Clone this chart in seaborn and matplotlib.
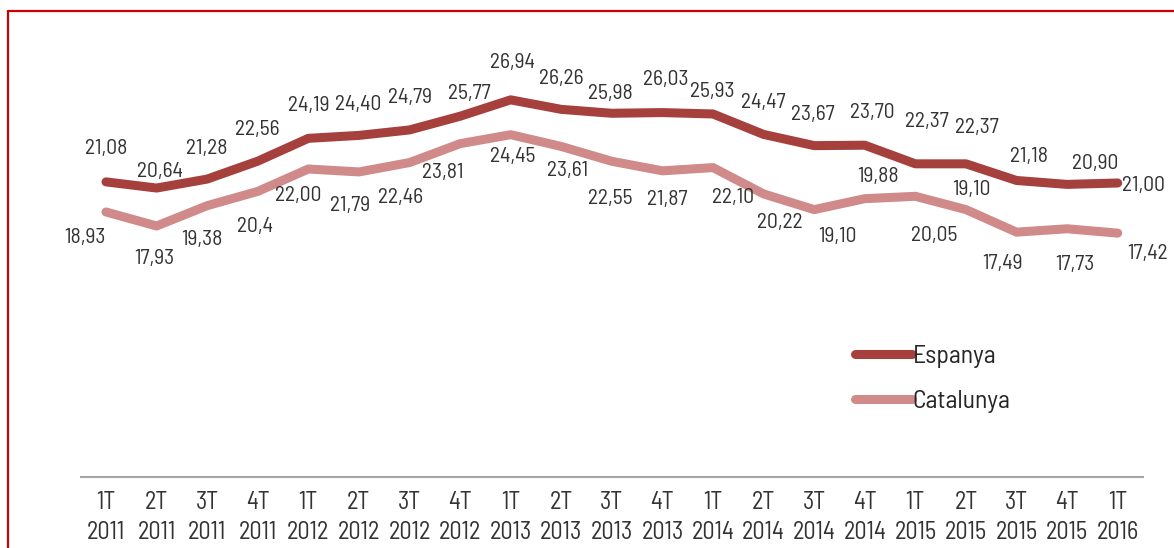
import numpy as np
import pandas as pd
import matplotlib
matplotlib.use("Agg")
import matplotlib.pyplot as plt
import seaborn as sns
from matplotlib.lines import Line2D

# Dades
trimestres = ['1T\n2011', '2T\n2011', '3T\n2011', '4T\n2011',
              '1T\n2012', '2T\n2012', '3T\n2012', '4T\n2012',
              '1T\n2013', '2T\n2013', '3T\n2013', '4T\n2013',
              '1T\n2014', '2T\n2014', '3T\n2014', '4T\n2014',
              '1T\n2015', '2T\n2015', '3T\n2015', '4T\n2015',
              '1T\n2016']
espanya = [21.08, 20.64, 21.28, 22.56, 24.19, 24.40, 24.79, 25.77, 26.94, 26.26,
           25.98, 26.03, 25.93, 24.47, 23.67, 23.70, 22.37, 22.37, 21.18, 20.90, 21.00]
catalunya = [18.93, 17.93, 19.38, 20.4, 22.00, 21.79, 22.46, 23.81, 24.45, 23.61,
             22.55, 21.87, 22.10, 20.22, 19.10, 19.88, 20.05, 19.10, 17.49, 17.73, 17.42]
etiquetes_esp = ['21,08', '20,64', '21,28', '22,56', '24,19', '24,40', '24,79', '25,77', '26,94', '26,26',
                 '25,98', '26,03', '25,93', '24,47', '23,67', '23,70', '22,37', '22,37', '21,18', '20,90', '21,00']
etiquetes_cat = ['18,93', '17,93', '19,38', '20,4', '22,00', '21,79', '22,46', '23,81', '24,45', '23,61',
                 '22,55', '21,87', '22,10', '20,22', '19,10', '19,88', '20,05', '19,10', '17,49', '17,73', '17,42']

# desplaçaments de les etiquetes (pixels)
off_esp = [(0, 33), (3, 17), (0, 31), (0, 32), (0, 33), (-1, 31), (0, 32), (9, 23), (2, 37), (0, 31),
           (-1, 20), (3, 33), (-1, 22), (0, 32), (-1, 31), (8, 33), (12, 42), (11, 36), (12, 24), (28, 21), (4, -2)]
off_cat = [(-21, -26), (-2, -33), (-5, -34), (-3, -35), (-10, -26), (-9, -34), (-9, -35), (-17, -29), (2, -22), (6, -24),
           (-2, -37), (5, -29), (20, -30), (16, -29), (23, -27), (13, 22), (19, -39), (6, 20), (-14, -31), (8, -36), (30, -20)]

colors = {'Espanya': '#a5403d', 'Catalunya': '#d08a8a'}

df = pd.DataFrame({
    'x': list(range(len(trimestres))) * 2,
    'valor': espanya + catalunya,
    'serie': ['Espanya'] * len(espanya) + ['Catalunya'] * len(catalunya),
})

sns.set_style('white')
plt.rcParams['font.family'] = ['Barlow Semi Condensed', 'DejaVu Sans']

fig = plt.figure(figsize=(11.74, 5.48), dpi=100)
ax = fig.add_axes([80.7 / 1174, 71 / 548, (1143 - 80.7) / 1174, 420 / 548])

sns.lineplot(data=df, x='x', y='valor', hue='serie', palette=colors, linewidth=6.5,
             legend=False, ax=ax, solid_capstyle='round', solid_joinstyle='round')

ax.set_xlim(-0.5, 20.5)
ax.set_ylim(0, 30)
ax.set_xlabel('')
ax.set_ylabel('')
ax.set_yticks([])

for serie, vals, labs, offs in [('Espanya', espanya, etiquetes_esp, off_esp),
                                ('Catalunya', catalunya, etiquetes_cat, off_cat)]:
    for i, (v, t, o) in enumerate(zip(vals, labs, offs)):
        ha = 'left' if (i == len(vals) - 1 and serie == 'Espanya') else 'center'
        ax.annotate(t, (i, v), xytext=o, textcoords='offset pixels',
                    ha=ha, va='center', fontsize=15.5, color='#333333', annotation_clip=False)

# eix x
for s in ['left', 'right', 'top']:
    ax.spines[s].set_visible(False)
ax.spines['bottom'].set_color('#a6a6a6')
ax.spines['bottom'].set_linewidth(1.5)
ax.set_xticks(range(len(trimestres)))
ax.set_xticklabels(trimestres, fontsize=17.5, color='#333333')
ax.set_xticks(np.arange(-0.5, 20, 2), minor=True)
ax.tick_params(axis='x', which='major', length=0, pad=10)
ax.tick_params(axis='x', which='minor', length=6, width=1.5, color='#a6a6a6', direction='out')
for t in ax.get_xticklabels():
    t.set_linespacing(1.4)

# llegenda
handles = [Line2D([], [], color=colors[k], lw=6.5, solid_capstyle='round') for k in ['Espanya', 'Catalunya']]
fig.legend(handles, ['Espanya', 'Catalunya'], loc='upper left',
           bbox_to_anchor=(855 / 1174, (548 - 345) / 548), frameon=False, fontsize=18.5,
           handlelength=2.2, handletextpad=0.05, labelspacing=0.85, borderpad=0, borderaxespad=0,
           labelcolor='#262626')

# marc vermell
fig.add_artist(Line2D([8 / 1174, 8 / 1174], [0, (548 - 10.5) / 548], color='#cc0000', lw=1.6,
                      transform=fig.transFigure))
fig.add_artist(Line2D([8 / 1174, 1.0], [(548 - 10.5) / 548, (548 - 10.5) / 548], color='#cc0000', lw=1.6,
                      transform=fig.transFigure))

fig.savefig('out.png', dpi=100)
